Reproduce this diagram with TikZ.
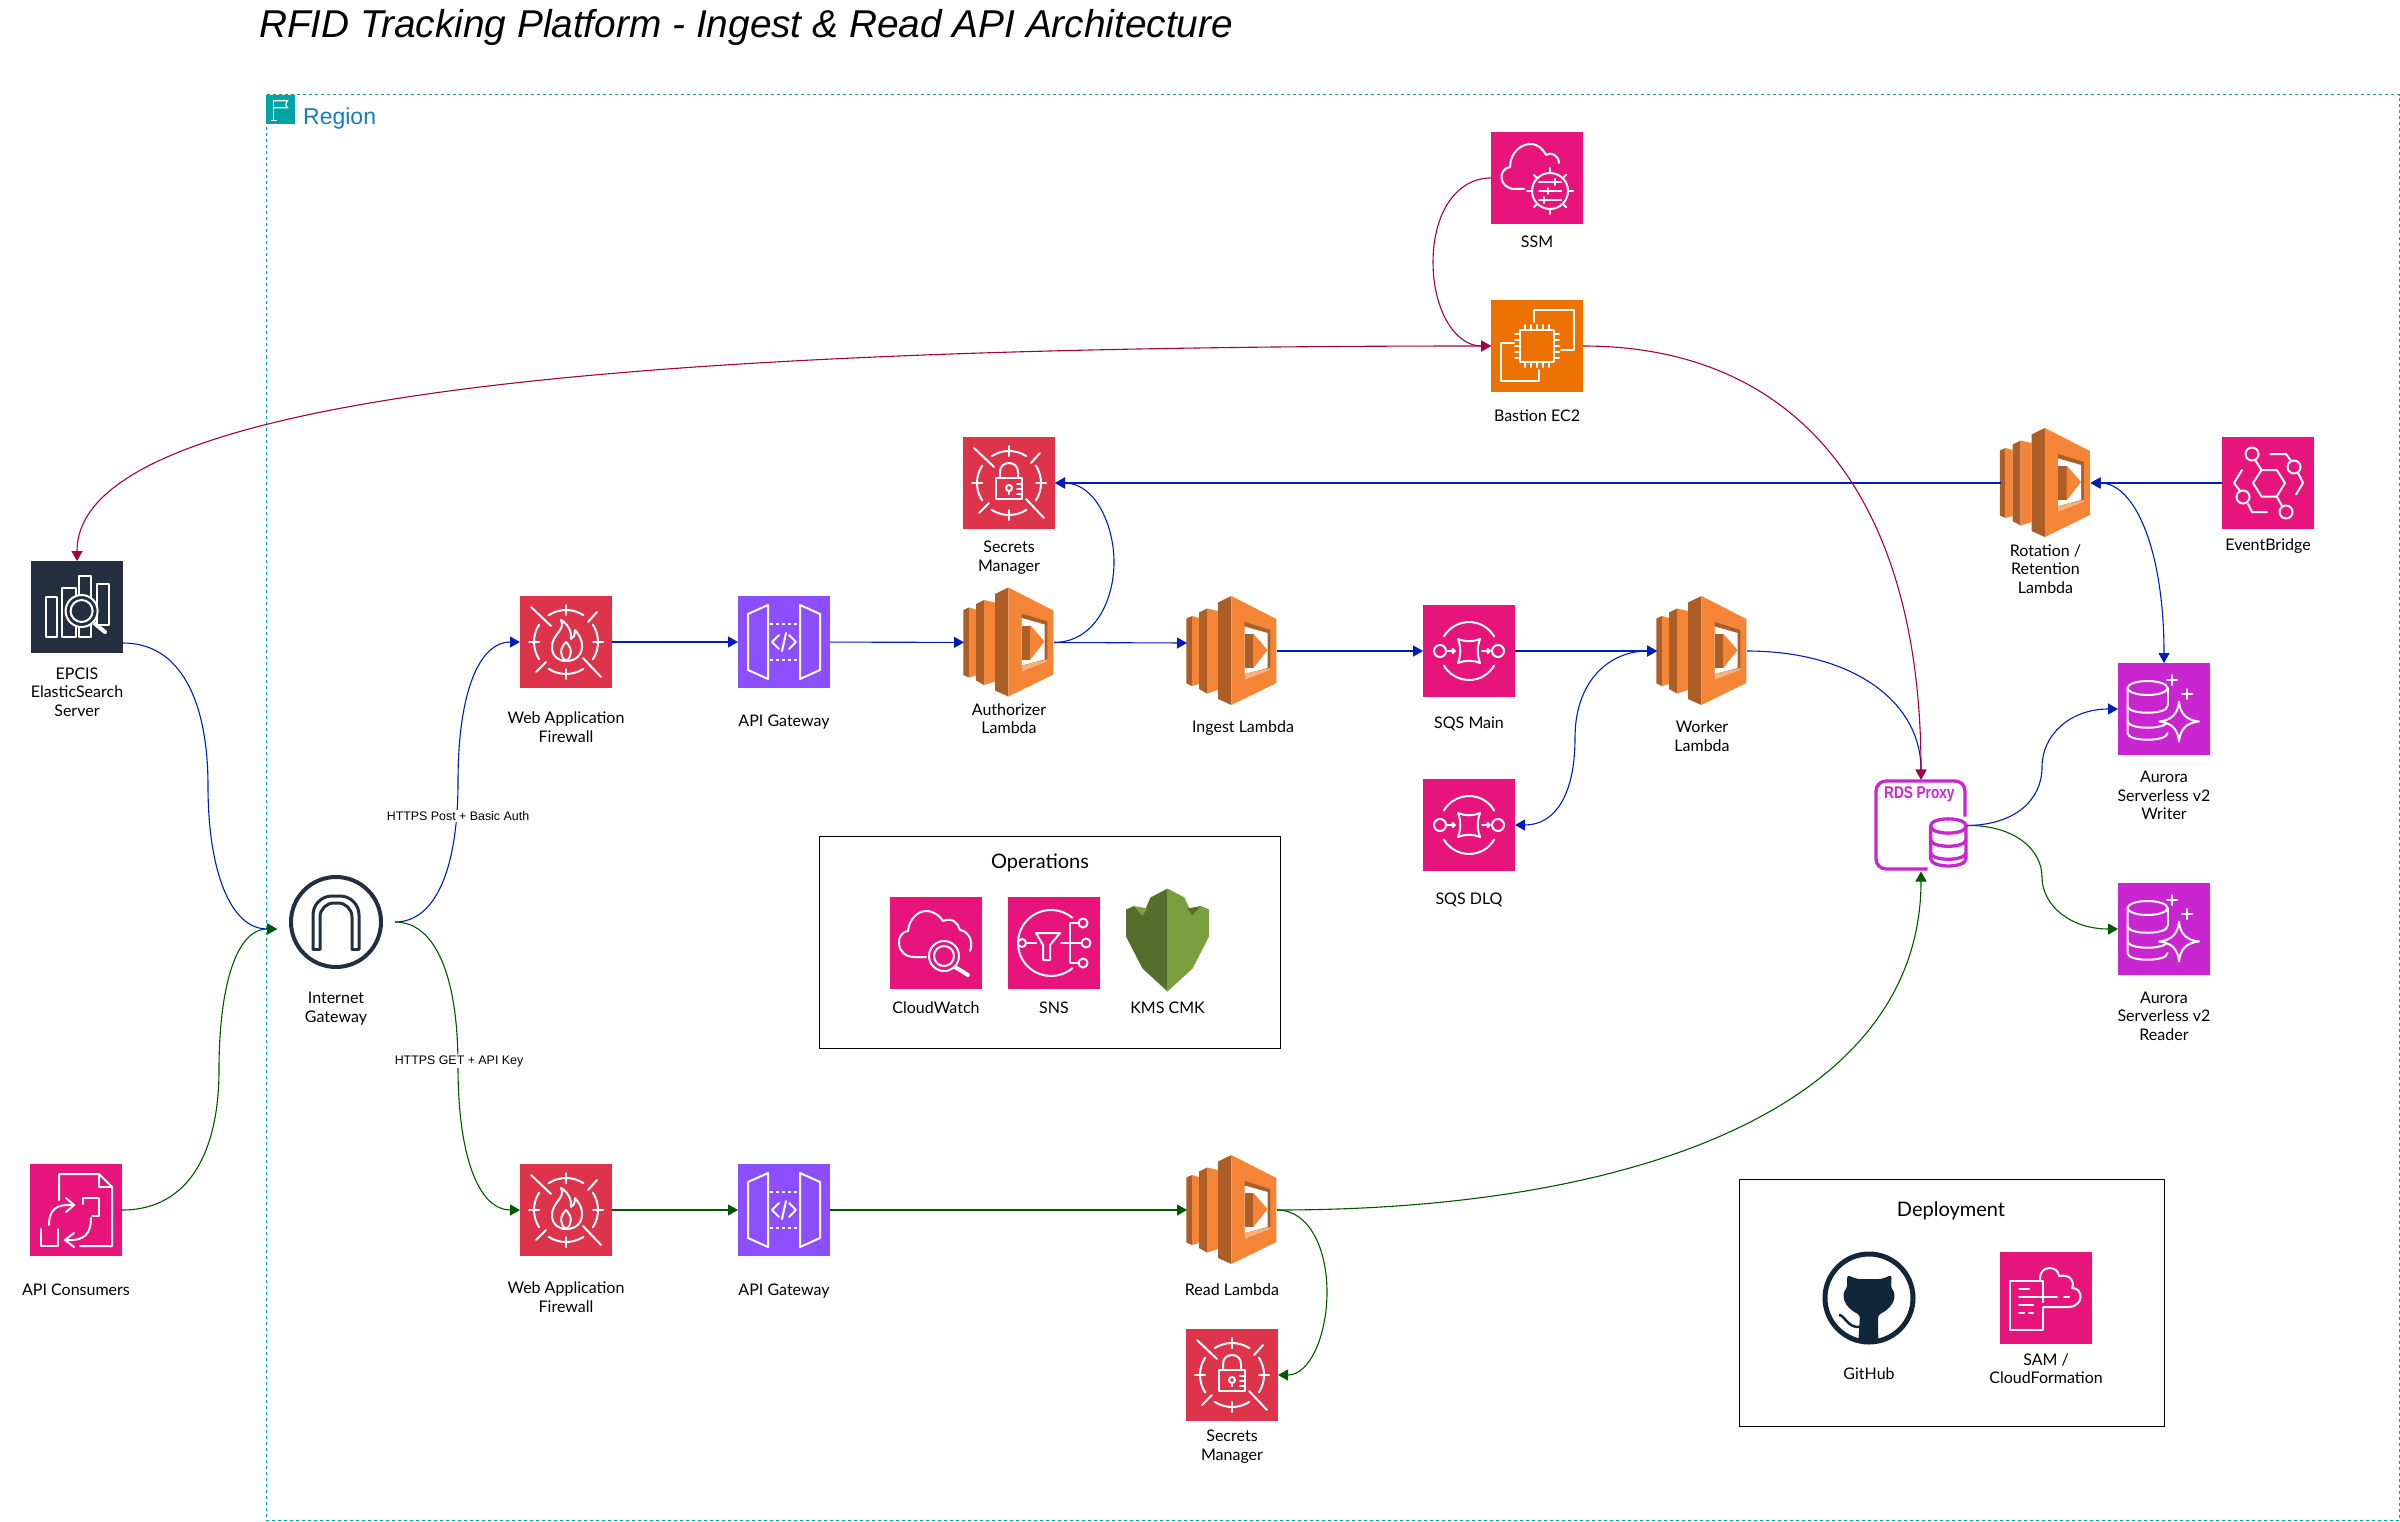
\documentclass[tikz,border=0pt]{standalone}
\usepackage{fontspec}
\setmainfont{Liberation Sans}
\newfontfamily\handfont{Lato}
\usetikzlibrary{arrows.meta}
\definecolor{regionteal}{HTML}{00A4A6}
\definecolor{regionblue}{HTML}{147EBA}
\definecolor{awspink}{HTML}{E7157B}
\definecolor{awsred}{HTML}{DD344C}
\definecolor{awspurple}{HTML}{8C4FFF}
\definecolor{awsorange}{HTML}{ED7100}
\definecolor{awsdb}{HTML}{C925D1}
\definecolor{awsnavy}{HTML}{232F3E}
\definecolor{gitnavy}{HTML}{0F2739}
\definecolor{lambdalight}{HTML}{F58536}
\definecolor{lambdadark}{HTML}{AD5D26}
\definecolor{lambdapale}{HTML}{FBB07A}
\definecolor{kmslight}{HTML}{7A9F3E}
\definecolor{kmsdark}{HTML}{546F2B}
\definecolor{linkblue}{HTML}{001DBC}
\definecolor{linkgreen}{HTML}{005700}
\definecolor{linkred}{HTML}{A50040}
\tikzstyle{iconbox} = [rectangle, minimum size=92pt, inner sep=0pt, outer sep=0pt]
\tikzstyle{pinkbox} = [iconbox, fill=awspink]
\tikzstyle{redbox} = [iconbox, fill=awsred]
\tikzstyle{purplebox} = [iconbox, fill=awspurple]
\tikzstyle{orangebox} = [iconbox, fill=awsorange]
\tikzstyle{dbbox} = [iconbox, fill=awsdb]
\tikzstyle{navybox} = [iconbox, fill=awsnavy]
\tikzstyle{lambdabox} = [rectangle, minimum width=90pt, minimum height=109pt, inner sep=0pt, outer sep=0pt]
\tikzstyle{panel} = [rectangle, draw=black, line width=0.9pt, inner sep=0pt, outer sep=0pt]
\tikzstyle{caption} = [font=\handfont\fontsize{16}{18.4}\selectfont, align=center, inner sep=0pt]
\tikzstyle{paneltitle} = [font=\handfont\fontsize{20}{24}\selectfont, inner sep=0pt]
\tikzstyle{wire} = [font=\fontsize{12.4}{14}\selectfont, fill=white, inner sep=1.5pt]
\tikzstyle{glyph} = [color=white, line width=2pt, line cap=round, line join=round]
\tikzstyle{link} = [line width=1.1pt, -{Triangle[length=10pt,width=11pt]}]
\tikzstyle{bothlink} = [line width=1.1pt, {Triangle[length=10pt,width=11pt]}-{Triangle[length=10pt,width=11pt]}]

\newcommand{\targetglyph}[1]{\begin{scope}[shift={(#1)}, glyph]
  \foreach \a in {0,90,180,270} {
    \draw (\a+33:32pt) arc[start angle=\a+33, end angle=\a-33, radius=32pt];
    \draw (\a:27pt) -- (\a:37pt);
  }
  \draw (-35,-35) -- (-15,-16);
  \draw (35,35) -- (17,16);
  \draw (31,-30) -- (22,-20);
  \draw (-30,30) -- (-20,20);
\end{scope}}
\newcommand{\wafglyph}[1]{\targetglyph{#1}\begin{scope}[shift={(#1)}, glyph]
  \draw (-5,-22) .. controls (0,-12) and (-14,-8) .. (-14,5) .. controls (-14,14) and (-8,19) .. (0,19) .. controls (9,19) and (16,14) .. (16,4) .. controls (16,-4) and (12,-8) .. (9,-12) .. controls (9,-6) and (7,-4) .. (5,-3) .. controls (6,-10) and (2,-18) .. (-5,-22) -- cycle;
  \draw (0,19) .. controls (-7,14) and (-6,6) .. (0,0) .. controls (6,6) and (7,14) .. (0,19);
\end{scope}}
\newcommand{\lockglyph}[1]{\targetglyph{#1}\begin{scope}[shift={(#1)}, glyph]
  \draw (-13,-5) rectangle (13,16);
  \draw (-9,-5) -- (-9,-11) .. controls (-9,-23) and (9,-23) .. (9,-11) -- (9,-5);
  \draw (0,5) circle[radius=3pt];
  \draw (0,8) -- (0,11);
  \draw (8,1) -- (13,1);
  \draw (8,6) -- (13,6);
  \draw (8,11) -- (13,11);
\end{scope}}
\newcommand{\gatewayglyph}[1]{\begin{scope}[shift={(#1)}, glyph]
  \draw (-16,-37) -- (-36,-28) -- (-36,28) -- (-16,37) -- cycle;
  \draw (16,-37) -- (36,-28) -- (36,28) -- (16,37) -- cycle;
  \draw[dash pattern=on 3pt off 3pt, line cap=butt] (-14,-18) -- (14,-18);
  \draw[dash pattern=on 3pt off 3pt, line cap=butt] (-14,18) -- (14,18);
  \draw (-5,-7) -- (-12,0) -- (-5,7);
  \draw (5,-7) -- (12,0) -- (5,7);
  \draw (-2,9) -- (2,-9);
\end{scope}}
\newcommand{\lambdaglyph}[1]{\begin{scope}[shift={(#1)}]
  \fill[lambdadark] (-45.7,-32.5) -- (-40,-35) -- (-40,35) -- (-45.7,32.5) -- cycle;
  \fill[lambdalight] (-40,-35) -- (-33,-33) -- (-33,33) -- (-40,35) -- cycle;
  \fill[lambdadark] (-33,-38.5) -- (-25,-42.5) -- (-25,42.5) -- (-33,38) -- cycle;
  \fill[lambdalight] (-25,-42.5) -- (-14,-40) -- (-14,39) -- (-25,42.5) -- cycle;
  \fill[lambdadark] (-14,-48.5) -- (-0.7,-55) -- (-0.7,54) -- (-14,48) -- cycle;
  \fill[lambdalight] (-0.7,-55) -- (44.3,-32) -- (44.3,32) -- (-0.7,54) -- cycle;
  \fill[lambdadark] (12.7,-29) -- (38.3,-21) -- (38.3,19) -- (12.7,29) -- cycle;
  \fill[white] (12.7,-24.5) -- (35.5,-18) -- (35.5,17) -- (12.7,23) -- cycle;
  \fill[lambdapale] (12.7,23) -- (38.3,17) -- (38.3,19) -- (12.7,29) -- cycle;
  \fill[lambdadark] (12.7,-17) -- (21,-17) -- (21,17) -- (12.7,17) -- cycle;
  \fill[lambdalight] (21,-17.5) -- (35.5,-1) -- (21,17.5) -- cycle;
\end{scope}}
\newcommand{\queueglyph}[1]{\begin{scope}[shift={(#1)}, glyph]
  \draw (150:29pt) arc[start angle=150, end angle=30, radius=29pt];
  \draw (210:29pt) arc[start angle=210, end angle=330, radius=29pt];
  \draw (-29,0) circle[radius=6pt];
  \draw (29,0) circle[radius=6pt];
  \draw[-{Straight Barb[length=2.5pt,width=5pt]}] (-22,0) -- (-13,0);
  \draw[-{Straight Barb[length=2.5pt,width=5pt]}] (13,0) -- (22,0);
  \draw (-11,-12) .. controls (-4,-9) and (4,-9) .. (11,-12) .. controls (8,-4) and (8,4) .. (11,12) .. controls (4,9) and (-4,9) .. (-11,12) .. controls (-8,4) and (-8,-4) .. (-11,-12) -- cycle;
\end{scope}}
\newcommand{\ssmglyph}[1]{\begin{scope}[shift={(#1)}, glyph]
  \draw (-13,11) -- (-22,11) .. controls (-38,11) and (-40,-9) .. (-27,-11) .. controls (-27,-26) and (-15,-34) .. (-7,-34) .. controls (1,-34) and (6,-29) .. (9,-23) .. controls (14,-27) and (22,-22) .. (22,-15);
  \begin{scope}[shift={(13,13)}]
    \draw (0,0) circle[radius=18pt];
    \foreach \a in {0,45,...,315} \draw (\a:18pt) -- (\a:23pt);
    \draw (-11,-9) -- (11,-9);
    \draw (-11,0) -- (11,0);
    \draw (-11,9) -- (11,9);
    \draw (5,-12) -- (5,-6);
    \draw (-2,-3) -- (-2,3);
    \draw (-6,6) -- (-6,12);
  \end{scope}
\end{scope}}
\newcommand{\chipglyph}[1]{\begin{scope}[shift={(#1)}, glyph]
  \draw (-17,-16) rectangle (17,16);
  \foreach \p in {-12,-6,0,6,12} {
    \draw (\p,-16) -- (\p,-21);
    \draw (\p,16) -- (\p,21);
    \draw (-17,\p) -- (-22,\p);
    \draw (17,\p) -- (22,\p);
  }
  \draw (-3,-24) -- (-3,-36) -- (36.5,-36) -- (36.5,4) -- (24,4);
  \draw (-23,-3) -- (-36,-3) -- (-36,35) -- (2,35) -- (2,24);
\end{scope}}
\newcommand{\ruleglyph}[1]{\begin{scope}[shift={(#1)}, glyph]
  \draw (-15,0) -- (-6.5,-13) -- (8.7,-13) -- (17,0) -- (8.7,13.5) -- (-6.5,13.5) -- cycle;
  \draw (-16,-29) circle[radius=6.5pt];
  \draw (26,-16) circle[radius=6.5pt];
  \draw (-25,14) circle[radius=6.5pt];
  \draw (18,29) circle[radius=6.5pt];
  \draw (-6.5,-13) -- (-13,-23);
  \draw (8.7,13.5) -- (14,23);
  \draw (2,-29) -- (18,-29) -- (23,-22);
  \draw (30,-10) -- (35,0) -- (28,11.5);
  \draw (-26,-13) -- (-34,0) -- (-28,8);
  \draw (-20,21) -- (-16,29) -- (-1,29);
\end{scope}}
\newcommand{\auroraglyph}[1]{\begin{scope}[shift={(#1)}, glyph]
  \draw (-16.5,-21) ellipse[x radius=20pt, y radius=7pt];
  \draw (-36.5,-21) -- (-36.5,24) .. controls (-36.5,33) and (3.5,33) .. (3.5,24);
  \draw (3.5,-21) -- (3.5,-4);
  \draw (-36.5,-3) .. controls (-36.5,6) and (3.5,6) .. (3.5,-3);
  \draw (-36.5,12) .. controls (-36.5,21) and (3.5,21) .. (3.5,12);
  \draw[fill=awsdb] (15,-7.5) .. controls (16,5) and (23,11.5) .. (35,12.5) .. controls (23,13.5) and (16,20) .. (15,32.5) .. controls (14,20) and (7,13.5) .. (-5,12.5) .. controls (7,11.5) and (14,5) .. (15,-7.5) -- cycle;
  \draw (8,-34) -- (8,-24);
  \draw (3,-29) -- (13,-29);
  \draw (23,-20) -- (23,-10);
  \draw (18,-15) -- (28,-15);
\end{scope}}
\newcommand{\proxyglyph}[1]{\begin{scope}[shift={(#1)}, color=awsdb, line width=3.3pt, line cap=butt, line join=round]
  \draw[rounded corners=10pt] (44,-9) -- (44,-44.5) -- (-45,-44.5) -- (-45,43.5) -- (6.7,43.5);
  \draw[fill=white] (9.6,0.5) -- (9.6,33) .. controls (9.6,43) and (45,43) .. (45,33) -- (45,0.5) .. controls (45,-9) and (9.6,-9) .. (9.6,0.5) -- cycle;
  \draw (9.6,0.5) .. controls (9.6,10) and (45,10) .. (45,0.5);
  \draw (9.6,14) .. controls (9.6,23) and (45,23) .. (45,14);
  \draw (9.6,27) .. controls (9.6,36) and (45,36) .. (45,27);
  \node (proxytext) [font=\bfseries\fontsize{17}{17}\selectfont, xscale=0.8, inner sep=0pt] at (-1.7,-31.5) {RDS Proxy};
\end{scope}}
\newcommand{\searchglyph}[1]{\begin{scope}[shift={(#1)}, glyph]
  \draw (-31,-10) rectangle (-20,30);
  \draw (-15,-19) rectangle (-1.5,30);
  \draw (2,-31) rectangle (14,30);
  \draw (20,-23) rectangle (31.6,18);
  \draw[fill=awsnavy] (4.6,4) circle[radius=16pt];
  \draw (4.6,4) circle[radius=11pt];
  \draw[line width=4pt] (17,16) -- (28,25);
\end{scope}}
\newcommand{\docglyph}[1]{\begin{scope}[shift={(#1)}, glyph]
  \draw (-17,-10) -- (-17,-36) -- (23,-36) -- (36,-23) -- (36,36) -- (4,36);
  \draw (23,-36) -- (23,-23) -- (36,-23);
  \draw (-35,19) -- (-35,36) -- (-18,36) -- (-18,19);
  \draw (7,-6) -- (7,-12) -- (23,-12) -- (23,6) -- (16,6);
  \draw (-27,15) .. controls (-27,0) and (-20,-6) .. (-4,-5);
  \draw (-10,-12) -- (-2,-5) -- (-10,2);
  \draw (15,8) .. controls (15,24) and (8,31) .. (-9,30);
  \draw (-2,23) -- (-11,30) -- (-2,37);
\end{scope}}
\newcommand{\watchglyph}[1]{\begin{scope}[shift={(#1)}, glyph]
  \draw (-10,14) -- (-22,14) .. controls (-40,14) and (-42,-10) .. (-28,-12) .. controls (-27,-24) and (-18,-32) .. (-10,-32) .. controls (-2,-32) and (4,-27) .. (7,-22) .. controls (16,-26) and (22,-20) .. (24,-13) .. controls (32,-12) and (38,-2) .. (34,8);
  \draw (8,13) circle[radius=15pt];
  \draw (8,13) circle[radius=10pt];
  \draw[line width=4pt] (19,24) -- (32,32);
\end{scope}}
\newcommand{\notifyglyph}[1]{\begin{scope}[shift={(#1)}, glyph]
  \draw (50:33pt) ++(-3,0) arc[start angle=50, end angle=310, radius=33pt];
  \draw[fill=awspink] (-32,0) circle[radius=4pt];
  \draw (-28,0) -- (-18,0);
  \draw (-18,-10) -- (6,-10) -- (-4,2) -- (-4,17) -- (-11,17) -- (-11,2) -- cycle;
  \draw (7,0) -- (27,0);
  \draw (25,-20) -- (16,-20) -- (16,20) -- (25,20);
  \draw (29,-20) circle[radius=4.5pt];
  \draw (32,0) circle[radius=4.5pt];
  \draw (29,20) circle[radius=4.5pt];
\end{scope}}
\newcommand{\shieldglyph}[1]{\begin{scope}[shift={(#1)}]
  \fill[kmslight] (0,-51) -- (17,-42) -- (25,-24) -- (33.5,-33.5) -- (41.5,-30) -- (41.5,-3) -- (25,29) -- (0,52) -- cycle;
  \fill[kmsdark] (0,-51) -- (-17,-42) -- (-25,-24) -- (-33.5,-33.5) -- (-41.5,-30) -- (-41.5,-3) -- (-25,29) -- (0,52) -- cycle;
  \fill[kmslight] (-33.5,-33.5) -- (-25,-24) -- (-20,-31) -- cycle;
  \fill[kmsdark] (33.5,-33.5) -- (25,-24) -- (20,-31) -- cycle;
\end{scope}}
\newcommand{\archglyph}[1]{\begin{scope}[shift={(#1)}, color=awsnavy, line width=3pt, line join=round, line cap=round]
  \draw[rounded corners=19pt] (-23,27) -- (-23,-26) -- (23,-26) -- (23,27);
  \draw[rounded corners=14pt] (-16,27) -- (-16,-19) -- (16,-19) -- (16,27);
  \draw (-23,27) -- (-16,27);
  \draw (16,27) -- (23,27);
\end{scope}}
\newcommand{\catglyph}[1]{\begin{scope}[shift={(#1)}, color=gitnavy]
  \draw[line width=5pt] (0,0) circle[radius=44pt];
  \fill[rounded corners=3pt] (-22,-23) -- (-12,-19) -- (12.7,-19) -- (22.7,-23) -- (22,-10) .. controls (27,-4) and (27,8) .. (9,17) -- (9.3,43) -- (-10.7,43) -- (-9,17) .. controls (-27,8) and (-27,-4) .. (-22,-10) -- cycle;
  \draw[line width=2.5pt] (-30,17) .. controls (-24,17) and (-22,30) .. (-9,29);
\end{scope}}
\newcommand{\stackglyph}[1]{\begin{scope}[shift={(#1)}, glyph]
  \draw (-3,4) -- (-3,-17) -- (-36,-17) -- (-36,32) -- (-3,32) -- (-3,10);
  \draw (-6,-17) -- (-6,-20) .. controls (-6,-33) and (12,-33) .. (13,-22) .. controls (24,-24) and (29,-17) .. (26,-10) .. controls (38,-10) and (38,9) .. (22,9) -- (-3,9);
  \draw (-27,-9) -- (-17,-9);
  \draw (-27,-1) -- (11,-1);
  \draw (18,-1) -- (23,-1);
  \draw (-27,7) -- (-13,7);
  \draw (-27,15) -- (-22,15);
  \draw (-17,15) -- (-13,15);
\end{scope}}
\newcommand{\flagglyph}[1]{\begin{scope}[shift={(#1)}, color=white, line width=1.1pt]
  \draw (-7,-10) -- (-7,11);
  \draw (-10,11) -- (-4,11);
  \draw (-7,-9) -- (7,-9) -- (5,-5) -- (7,-2) -- (-7,-2);
\end{scope}}

\begin{document}
\begin{tikzpicture}[x=1pt, y=-1pt]
\useasboundingbox (0,0) rectangle (2400,1522);

\node (title) [anchor=base west, inner sep=0pt, font=\itshape\fontsize{38.8}{44}\selectfont] at (259,38) {RFID Tracking Platform - Ingest \& Read API Architecture};
\node (region) [rectangle, draw=regionteal, line width=1pt, dash pattern=on 3pt off 3pt, minimum width=2133pt, minimum height=1425.5pt, inner sep=0pt, outer sep=0pt] at (1332.5,807.75) {};
\node (regionflag) [rectangle, fill=regionteal, minimum size=29.5pt, inner sep=0pt] at (280.5,109.75) {};
\node (regionname) [anchor=base west, inner sep=0pt, text=regionblue, font=\fontsize{23}{26}\selectfont] at (303,124.5) {Region};
\flagglyph{regionflag}

\node (ops) [panel, minimum width=461pt, minimum height=212pt] at (1050,942.5) {};
\node (deploy) [panel, minimum width=425pt, minimum height=247pt] at (1951.5,1303) {};
\node (opstitle) [paneltitle] at (1040,863) {Operations};
\node (deploytitle) [paneltitle] at (1951,1211) {Deployment};

\node (epcis) [navybox] at (77,607) {};
\node (consumers) [pinkbox] at (76,1210) {};
\node (igw) [circle, draw=awsnavy, line width=4pt, minimum size=90pt, inner sep=0pt, outer sep=0pt] at (336,922) {};
\node (waf1) [redbox] at (566,642) {};
\node (api1) [purplebox, right of=waf1, node distance=218pt] {};
\node (authz) [lambdabox] at (1009,642.5) {};
\node (secrets1) [redbox, above of=authz, node distance=159.5pt] {};
\node (ingest) [lambdabox, right of=authz, node distance=223pt, yshift=-8.5pt] {};
\node (sqsmain) [pinkbox, right of=ingest, node distance=237pt] {};
\node (sqsdlq) [pinkbox, below of=sqsmain, node distance=174pt] {};
\node (worker) [lambdabox, right of=sqsmain, node distance=233pt] {};
\node (ssm) [pinkbox] at (1537,178) {};
\node (bastion) [orangebox, below of=ssm, node distance=168pt] {};
\node (rotation) [lambdabox] at (2045.5,483) {};
\node (bridge) [pinkbox, right of=rotation, node distance=222.5pt] {};
\node (proxy) [iconbox] at (1921,825.5) {};
\node (writer) [dbbox] at (2164,709) {};
\node (reader) [dbbox, below of=writer, node distance=220pt] {};
\node (waf2) [redbox] at (566,1210) {};
\node (api2) [purplebox, right of=waf2, node distance=218pt] {};
\node (read) [lambdabox, right of=api2, node distance=448pt] {};
\node (secrets2) [redbox, below of=read, node distance=165pt] {};
\node (watch) [pinkbox] at (936,943) {};
\node (notify) [pinkbox, right of=watch, node distance=118pt] {};
\node (kms) [rectangle, minimum width=83pt, minimum height=103pt, inner sep=0pt] at (1167.5,939.5) {};
\node (github) [circle, minimum size=92pt, inner sep=0pt] at (1869,1298) {};
\node (sam) [pinkbox, right of=github, node distance=177pt] {};

\searchglyph{epcis}
\docglyph{consumers}
\archglyph{igw}
\wafglyph{waf1}
\wafglyph{waf2}
\gatewayglyph{api1}
\gatewayglyph{api2}
\lockglyph{secrets1}
\lockglyph{secrets2}
\lambdaglyph{authz}
\lambdaglyph{ingest}
\lambdaglyph{worker}
\lambdaglyph{rotation}
\lambdaglyph{read}
\queueglyph{sqsmain}
\queueglyph{sqsdlq}
\ssmglyph{ssm}
\chipglyph{bastion}
\ruleglyph{bridge}
\proxyglyph{proxy}
\auroraglyph{writer}
\auroraglyph{reader}
\watchglyph{watch}
\notifyglyph{notify}
\shieldglyph{kms}
\catglyph{github}
\stackglyph{sam}

\node (epciscap) [caption, below of=epcis, node distance=85pt] {EPCIS\\ElasticSearch\\Server};
\node (consumerscap) [caption, below of=consumers, node distance=80pt] {API Consumers};
\node (igwcap) [caption, below of=igw, node distance=86.5pt] {Internet\\Gateway};
\node (waf1cap) [caption, below of=waf1, node distance=85pt] {Web Application\\Firewall};
\node (api1cap) [caption, below of=api1, node distance=80pt] {API Gateway};
\node (secrets1cap) [caption, below of=secrets1, node distance=74.5pt] {Secrets\\Manager};
\node (authzcap) [caption, below of=authz, node distance=76pt] {Authorizer\\Lambda};
\node (ingestcap) [caption, below of=ingest, node distance=77pt, xshift=11pt] {Ingest Lambda};
\node (sqsmaincap) [caption, below of=sqsmain, node distance=73pt] {SQS Main};
\node (sqsdlqcap) [caption, below of=sqsdlq, node distance=75pt] {SQS DLQ};
\node (workercap) [caption, below of=worker, node distance=85pt] {Worker\\Lambda};
\node (ssmcap) [caption, below of=ssm, node distance=63.5pt] {SSM};
\node (bastioncap) [caption, below of=bastion, node distance=70pt] {Bastion EC2};
\node (rotationcap) [caption, below of=rotation, node distance=86pt] {Rotation /\\Retention\\Lambda};
\node (bridgecap) [caption, below of=bridge, node distance=62.6pt] {EventBridge};
\node (writercap) [caption, below of=writer, node distance=86.6pt] {Aurora\\Serverless v2\\Writer};
\node (readercap) [caption, below of=reader, node distance=87pt] {Aurora\\Serverless v2\\Reader};
\node (waf2cap) [caption, below of=waf2, node distance=87pt] {Web Application\\Firewall};
\node (api2cap) [caption, below of=api2, node distance=81pt] {API Gateway};
\node (readcap) [caption, below of=read, node distance=80pt] {Read Lambda};
\node (secrets2cap) [caption, below of=secrets2, node distance=71.5pt] {Secrets\\Manager};
\node (watchcap) [caption, below of=watch, node distance=65pt] {CloudWatch};
\node (notifycap) [caption, below of=notify, node distance=65pt] {SNS};
\node (kmscap) [caption, below of=kms, node distance=68.5pt] {KMS CMK};
\node (githubcap) [caption, below of=github, node distance=76pt] {GitHub};
\node (samcap) [caption, below of=sam, node distance=70.5pt] {SAM /\\CloudFormation};

\draw [link, color=linkblue] ([yshift=-36pt]epcis.east) .. controls (180,643) and (208,700) .. (208,786) .. controls (208,870) and (230,929) .. ([xshift=-14pt,yshift=-7pt]igw.west);
\draw [link, color=linkgreen] (consumers.east) .. controls (190,1210) and (219,1150) .. (219,1070) .. controls (219,990) and (235,929) .. ([xshift=-14pt,yshift=-7pt]igw.west);
\draw [link, color=linkblue] ([xshift=14pt]igw.east) .. controls (435,922) and (458,870) .. (458,782) .. controls (458,690) and (480,642) .. (waf1.west);
\draw [link, color=linkgreen] ([xshift=14pt]igw.east) .. controls (435,922) and (458,975) .. (458,1066) .. controls (458,1160) and (480,1210) .. (waf2.west);
\draw [link, color=linkblue] (waf1) -- (api1);
\draw [link, color=linkblue] (api1) -- (authz);
\draw [link, color=linkblue] (authz.east) -- ([yshift=8pt]ingest.west);
\draw [link, color=linkblue] (authz.east) .. controls (1095,642) and (1114,600) .. (1114,562) .. controls (1114,525) and (1095,483) .. (secrets1.east);
\draw [link, color=linkblue] (ingest) -- (sqsmain);
\draw [link, color=linkblue] (sqsmain) -- (worker);
\draw [bothlink, color=linkblue] (worker.west) .. controls (1610,651) and (1575,680) .. (1575,738) .. controls (1575,795) and (1555,825) .. (sqsdlq.east);
\draw [link, color=linkblue] (worker.east) .. controls (1850,651) and (1921,700) .. (proxy.north);
\draw [link, color=linkblue] (rotation) -- (secrets1);
\draw [link, color=linkblue] (bridge) -- (rotation);
\draw [bothlink, color=linkblue] (rotation.east) .. controls (2135,483) and (2164,550) .. (writer.north);
\draw [link, color=linkblue] (proxy.east) .. controls (2015,825) and (2042,800) .. (2042,767) .. controls (2042,735) and (2070,709) .. (writer.west);
\draw [link, color=linkgreen] (proxy.east) .. controls (2015,825) and (2042,850) .. (2042,877) .. controls (2042,905) and (2070,929) .. (reader.west);
\draw [link, color=linkred] (ssm.west) .. controls (1455,178) and (1433,215) .. (1433,262) .. controls (1433,310) and (1455,346) .. (bastion.west);
\draw [bothlink, color=linkred] (bastion.west) .. controls (700,346) and (77,385) .. (epcis.north);
\draw [link, color=linkred] (bastion.east) .. controls (1800,346) and (1921,500) .. (proxy.north);
\draw [link, color=linkgreen] (waf2) -- (api2);
\draw [link, color=linkgreen] (api2) -- (read);
\draw [link, color=linkgreen] (read.east) .. controls (1650,1210) and (1921,1100) .. (proxy.south);
\draw [link, color=linkgreen] (read.east) .. controls (1310,1210) and (1327,1250) .. (1327,1292) .. controls (1327,1335) and (1310,1375) .. (secrets2.east);

\node (postwire) [wire] at (458,816) {HTTPS Post + Basic Auth};
\node (getwire) [wire] at (459,1061) {HTTPS GET + API Key};

\end{tikzpicture}
\end{document}
